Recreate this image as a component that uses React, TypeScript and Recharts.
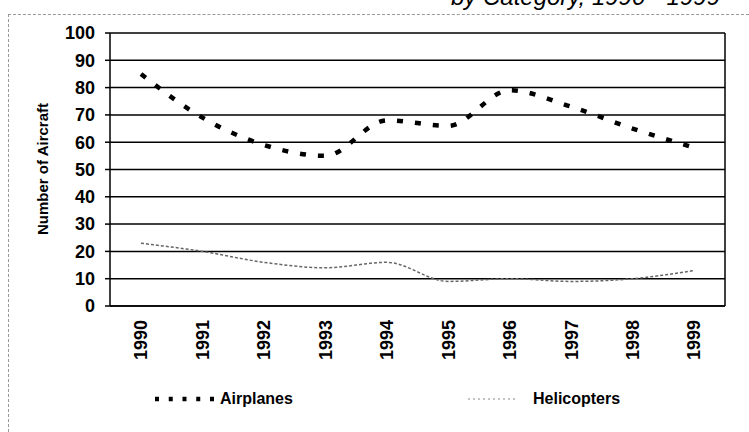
import React from 'react';
import { LineChart, Line, XAxis, YAxis, CartesianGrid, Legend } from 'recharts';

const years = ['1990', '1991', '1992', '1993', '1994', '1995', '1996', '1997', '1998', '1999'];
const airplanes = [85, 69, 59, 55, 68, 66, 79, 73, 65, 58];
const helicopters = [23, 20, 16, 14, 16, 9, 10, 9, 10, 13];
const yTicks = [0, 10, 20, 30, 40, 50, 60, 70, 80, 90, 100];
const titleText = 'by Category, 1990 - 1999';
const yLabel = 'Number of Aircraft';

const data = years.map((y, i) => ({ year: y, Airplanes: airplanes[i], Helicopters: helicopters[i] }));

const FONT = '"Liberation Sans", Arial, Helvetica, sans-serif';

const XTick = (props: any) => {
  const { x, y, payload } = props;
  const ty = y + 2;
  return (
    <text
      x={x}
      y={ty}
      transform={`rotate(-90, ${x}, ${ty})`}
      textAnchor="end"
      dy="0.36em"
      fontFamily={FONT}
      fontWeight="bold"
      fontSize={18}
      fill="#000"
    >
      {payload.value}
    </text>
  );
};

const LegendContent = () => (
  <div style={{ position: 'relative', height: 30, width: 749, fontFamily: FONT, fontWeight: 'bold', fontSize: 16, color: '#000' }}>
    <svg style={{ position: 'absolute', left: 150, top: 0 }} width={66} height={30}>
      <line x1={5} y1={15} x2={64} y2={15} stroke="#000" strokeWidth={4.5} strokeDasharray="4 9.75" />
    </svg>
    <span style={{ position: 'absolute', left: 220, top: 6 }}>Airplanes</span>
    <svg style={{ position: 'absolute', left: 466, top: 0 }} width={52} height={30}>
      <line x1={2} y1={15} x2={50} y2={15} stroke="#888" strokeWidth={1.2} strokeDasharray="2 3" />
    </svg>
    <span style={{ position: 'absolute', left: 533, top: 6 }}>Helicopters</span>
  </div>
);

export default function App() {
  return (
    <div style={{ position: 'absolute', left: 0, top: 0, width: 749, height: 432, overflow: 'hidden', background: '#fff' }}>
      <div style={{ position: 'absolute', left: 8, top: 14, right: 0, bottom: 0, borderTop: '1px dashed #999', borderLeft: '1px dashed #999' }} />
      <svg style={{ position: 'absolute', left: 0, top: 0 }} width={749} height={20}>
        <text x={720} y={5} textAnchor="end" fontFamily={FONT} fontStyle="italic" fontSize={24} fill="#000">
          {titleText}
        </text>
      </svg>
      <div style={{ position: 'absolute', left: 0, top: 0 }}>
        <LineChart width={749} height={432} data={data} margin={{ top: 33, right: 24, left: 0, bottom: 18 }}>
          <CartesianGrid
            stroke="#000"
            strokeWidth={1.5}
            strokeDasharray=""
            verticalCoordinatesGenerator={(p: any) => [p.offset.left + p.offset.width]}
          />
          <XAxis
            dataKey="year"
            height={78}
            padding={{ left: 31, right: 31 }}
            axisLine={{ stroke: '#000', strokeWidth: 1.5 }}
            tickLine={false}
            tickSize={0}
            tickMargin={12}
            interval={0}
            tick={<XTick />}
          />
          <YAxis
            width={110}
            domain={[0, 100]}
            ticks={yTicks}
            interval={0}
            axisLine={{ stroke: '#000', strokeWidth: 1.5 }}
            tickLine={{ stroke: '#000', strokeWidth: 1.5 }}
            tickSize={5}
            tickMargin={10}
            tick={{ fontFamily: FONT, fontWeight: 'bold', fontSize: 18, fill: '#000' }}
            label={{
              content: () => (
                <text
                  x={43}
                  y={169}
                  transform="rotate(-90, 43, 169)"
                  textAnchor="middle"
                  dy="0.35em"
                  fontFamily={FONT}
                  fontWeight="bold"
                  fontSize={15}
                  fill="#000"
                >
                  {yLabel}
                </text>
              ),
            }}
          />
          <Legend verticalAlign="bottom" height={30} content={<LegendContent />} wrapperStyle={{ left: 0, width: 749 }} />
          <Line
            type="monotone"
            dataKey="Airplanes"
            stroke="#000"
            strokeWidth={4.5}
            strokeDasharray="6 12"
            dot={false}
            activeDot={false}
            isAnimationActive={false}
          />
          <Line
            type="monotone"
            dataKey="Helicopters"
            stroke="#666"
            strokeWidth={1.5}
            strokeDasharray="3 2"
            dot={false}
            activeDot={false}
            isAnimationActive={false}
          />
        </LineChart>
      </div>
    </div>
  );
}
